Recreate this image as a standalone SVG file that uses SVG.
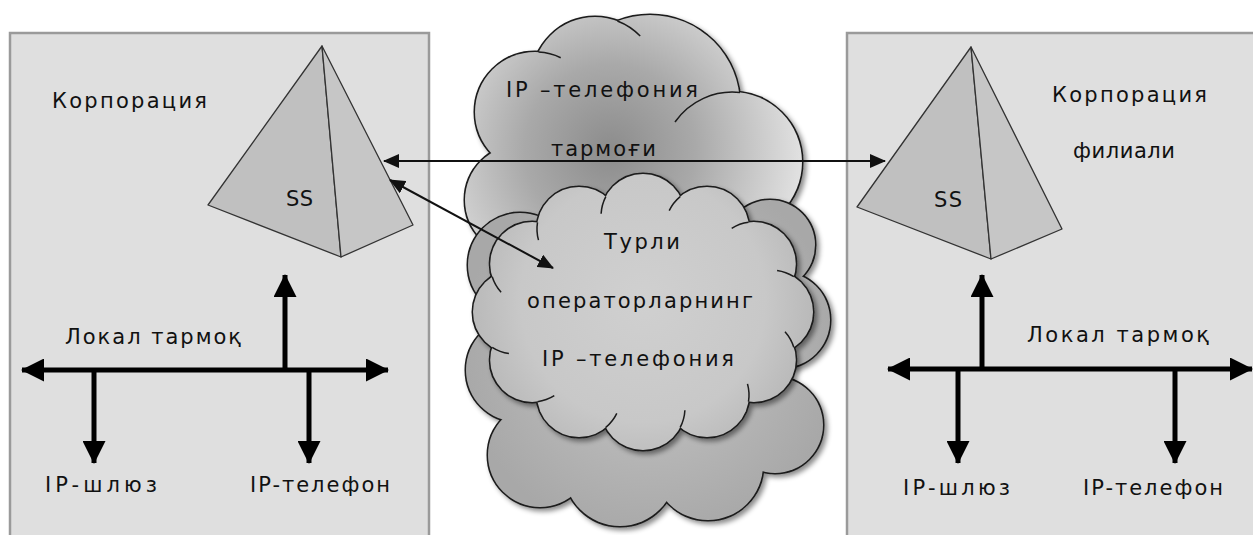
<svg xmlns="http://www.w3.org/2000/svg" xmlns:xlink="http://www.w3.org/1999/xlink" width="1253" height="535" viewBox="0 0 1253 535">
<style>
.box{fill:#dfdfdf;stroke:#9a9a9a;stroke-width:2.5}
.face1{fill:#c0c0c0;stroke:#333;stroke-width:1.3;stroke-linejoin:round}
.face2{fill:#c6c6c6;stroke:#333;stroke-width:1.3;stroke-linejoin:round}
.t{font-family:"DejaVu Sans","Verdana",sans-serif;font-size:21px;fill:#111}
.thin{stroke:#111;stroke-width:2;fill:none}
.bus{stroke:#000;stroke-width:5;fill:none}
.cedge{stroke:#1a1a1a;stroke-width:3}
.curl{fill:none;stroke:#1a1a1a;stroke-width:1.5}
</style>
<defs>
<marker id="ah" markerUnits="userSpaceOnUse" markerWidth="16" markerHeight="14" refX="15" refY="7" orient="auto-start-reverse" viewBox="0 0 16 14">
<path d="M0,0 L16,7 L0,14 z" fill="#111"/>
</marker>
<marker id="bh" markerUnits="userSpaceOnUse" markerWidth="23" markerHeight="23" refX="22" refY="11.5" orient="auto-start-reverse" viewBox="0 0 23 23">
<path d="M0,0 L23,11.5 L0,23 z" fill="#000"/>
</marker>
<filter id="sh" x="-10%" y="-10%" width="125%" height="125%">
<feDropShadow dx="3" dy="3" stdDeviation="2.5" flood-color="#000" flood-opacity="0.45"/>
</filter>
<radialGradient id="gA" gradientUnits="userSpaceOnUse" cx="610" cy="150" r="190">
<stop offset="0" stop-color="#8c8c8c"/>
<stop offset="0.45" stop-color="#a9a9a9"/>
<stop offset="1" stop-color="#e0e0e0"/>
</radialGradient>
<radialGradient id="gC" gradientUnits="userSpaceOnUse" cx="650" cy="350" r="190">
<stop offset="0" stop-color="#c6c6c6"/>
<stop offset="1" stop-color="#a8a8a8"/>
</radialGradient>
<radialGradient id="gB" gradientUnits="userSpaceOnUse" cx="643" cy="300" r="175">
<stop offset="0" stop-color="#d0d0d0"/>
<stop offset="0.7" stop-color="#c8c8c8"/>
<stop offset="1" stop-color="#b8b8b8"/>
</radialGradient>
<g id="shapeA">
<circle cx="535" cy="112" r="60"/>
<circle cx="595" cy="80" r="63"/>
<circle cx="650" cy="105" r="90"/>
<circle cx="732" cy="162" r="70"/>
<circle cx="520" cy="200" r="55"/>
<circle cx="640" cy="170" r="100"/>
</g>
<g id="shapeC">
<circle cx="520" cy="265" r="52"/>
<circle cx="518" cy="370" r="52"/>
<circle cx="540" cy="455" r="52"/>
<circle cx="620" cy="470" r="56"/>
<circle cx="708" cy="465" r="55"/>
<circle cx="775" cy="425" r="48"/>
<circle cx="782" cy="320" r="48"/>
<circle cx="770" cy="245" r="45"/>
<circle cx="650" cy="350" r="130"/>
</g>
<g id="shapeB">
<circle cx="771" cy="312" r="42"/>
<circle cx="753.8" cy="360" r="42"/>
<circle cx="707" cy="395.1" r="42"/>
<circle cx="643" cy="408" r="42"/>
<circle cx="579" cy="395.1" r="42"/>
<circle cx="532.2" cy="360" r="42"/>
<circle cx="515" cy="312" r="42"/>
<circle cx="532.2" cy="264" r="42"/>
<circle cx="579" cy="228.9" r="42"/>
<circle cx="643" cy="216" r="42"/>
<circle cx="707" cy="228.9" r="42"/>
<circle cx="753.8" cy="264" r="42"/>
<ellipse cx="643" cy="312" rx="128" ry="96"/>
</g>
</defs>

<g id="corp-left">
<rect class="box" x="10" y="33" width="419" height="520"/>
<text class="t" x="52" y="108" textLength="155" lengthAdjust="spacing">Корпорация</text>
</g>
<g id="corp-right">
<rect class="box" x="847" y="33" width="420" height="520"/>
<text class="t" x="1052" y="102" textLength="155" lengthAdjust="spacing">Корпорация</text>
<text class="t" x="1073" y="158" textLength="102" lengthAdjust="spacing">филиали</text>
</g>

<g id="ss-left">
<polygon class="face1" points="322,46 208,205 341,257"/>
<polygon class="face2" points="322,46 341,257 413,225"/>
<text class="t" x="286" y="206" textLength="27" lengthAdjust="spacing">SS</text>
</g>
<g id="ss-right">
<polygon class="face1" points="971,47 857,207 991,259"/>
<polygon class="face2" points="971,47 991,259 1062,229"/>
<text class="t" x="934" y="207" textLength="28" lengthAdjust="spacing">SS</text>
</g>

<g id="lan-left">
<text class="t" x="65" y="344" textLength="176" lengthAdjust="spacing">Локал тармоқ</text>
</g>
<g id="gw-left">
<text class="t" x="45" y="492" textLength="112" lengthAdjust="spacing">IP-шлюз</text>
</g>
<g id="phone-left">
<text class="t" x="250" y="492" textLength="140" lengthAdjust="spacing">IP-телефон</text>
</g>
<g id="lan-right">
<text class="t" x="1027" y="342" textLength="182" lengthAdjust="spacing">Локал тармоқ</text>
</g>
<g id="gw-right">
<text class="t" x="903" y="495" textLength="107" lengthAdjust="spacing">IP-шлюз</text>
</g>
<g id="phone-right">
<text class="t" x="1083" y="495" textLength="140" lengthAdjust="spacing">IP-телефон</text>
</g>

<g id="cloud-ip-network" filter="url(#sh)">
<use xlink:href="#shapeA" href="#shapeA" class="cedge" fill="none"/>
<use xlink:href="#shapeA" href="#shapeA" fill="url(#gA)" stroke="none"/>
<path class="curl" d="M617.4,21 A63,63 0 0 1 640.2,36.1"/>
<path class="curl" d="M538.5,52.1 A60,60 0 0 1 560.7,57.7"/>
<path class="curl" d="M740,92.5 A70,70 0 0 0 675,122"/>
</g>
<g id="cloud-back" filter="url(#sh)">
<use xlink:href="#shapeC" href="#shapeC" class="cedge" fill="none"/>
<use xlink:href="#shapeC" href="#shapeC" fill="url(#gC)" stroke="none"/>
</g>
<g id="cloud-operators" filter="url(#sh)">
<use xlink:href="#shapeB" href="#shapeB" class="cedge" fill="none"/>
<use xlink:href="#shapeB" href="#shapeB" fill="url(#gB)" stroke="none"/>
<path class="curl" d="M793.8,347.3 A42,42 0 0 0 785,331.8"/>
<path class="curl" d="M748.5,401.7 A42,42 0 0 0 747.5,383.9"/>
<path class="curl" d="M680.2,427.4 A42,42 0 0 0 684.9,410.2"/>
<path class="curl" d="M605.8,427.4 A42,42 0 0 0 616.8,413.4"/>
<path class="curl" d="M537.5,401.7 A42,42 0 0 0 554.3,395.7"/>
<path class="curl" d="M492.2,347.3 A42,42 0 0 0 508.9,353.5"/>
<path class="curl" d="M492.2,276.7 A42,42 0 0 0 501.1,292.2"/>
<path class="curl" d="M537.5,222.3 A42,42 0 0 0 538.5,240.1"/>
<path class="curl" d="M605.8,196.6 A42,42 0 0 0 601.1,213.8"/>
<path class="curl" d="M680.2,196.6 A42,42 0 0 0 669.2,210.6"/>
<path class="curl" d="M748.5,222.3 A42,42 0 0 0 731.7,228.3"/>
<path class="curl" d="M793.8,276.7 A42,42 0 0 0 777.1,270.5"/>
</g>

<g id="connectors">
<path class="thin" d="M384,161 L885,161" marker-start="url(#ah)" marker-end="url(#ah)"/>
<path class="thin" d="M390,180 L553,268" marker-start="url(#ah)" marker-end="url(#ah)"/>
<path class="bus" d="M22,370 L388,370" marker-start="url(#bh)" marker-end="url(#bh)"/>
<path class="bus" d="M285,370 L285,275" marker-end="url(#bh)"/>
<path class="bus" d="M94,370 L94,463" marker-end="url(#bh)"/>
<path class="bus" d="M309,370 L309,463" marker-end="url(#bh)"/>
<path class="bus" d="M888,369 L1252,369" marker-start="url(#bh)" marker-end="url(#bh)"/>
<path class="bus" d="M982,369 L982,275" marker-end="url(#bh)"/>
<path class="bus" d="M958,369 L958,463" marker-end="url(#bh)"/>
<path class="bus" d="M1175,369 L1175,463" marker-end="url(#bh)"/>
</g>

<g id="cloud-labels">
<text class="t" x="506" y="97" textLength="192" lengthAdjust="spacing">IP –телефония</text>
<text class="t" x="551" y="156" textLength="105" lengthAdjust="spacing">тармоғи</text>
<text class="t" x="604" y="249" textLength="76" lengthAdjust="spacing">Турли</text>
<text class="t" x="527" y="308" textLength="226" lengthAdjust="spacing">операторларнинг</text>
<text class="t" x="542" y="366" textLength="192" lengthAdjust="spacing">IP –телефония</text>
</g>
</svg>
